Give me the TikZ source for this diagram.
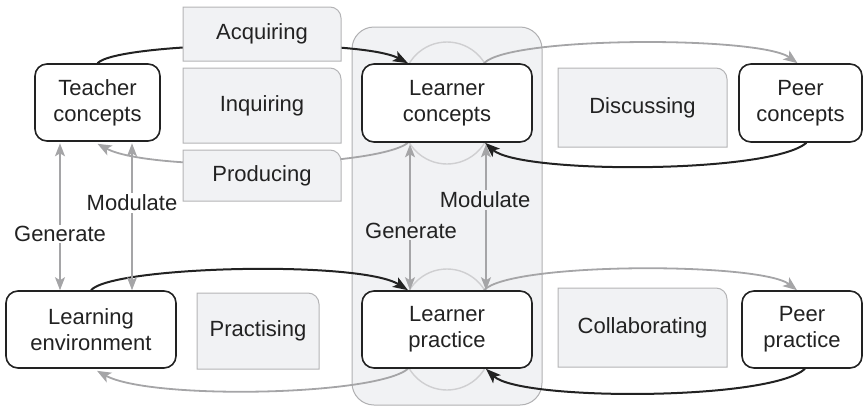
\documentclass[tikz,border=0pt]{standalone}
\usepackage{fontspec}
\setmainfont{Liberation Sans}
\usetikzlibrary{arrows.meta,calc}
\definecolor{ink}{HTML}{222222}
\definecolor{boxfill}{HTML}{F1F2F4}
\definecolor{boxedge}{HTML}{B4B4B6}
\definecolor{panelfill}{HTML}{F1F2F4}
\definecolor{paneledge}{HTML}{B0B0B2}
\definecolor{flow}{HTML}{A5A5A7}
\definecolor{ring}{HTML}{CFCFD1}
\pgfdeclarelayer{back}
\pgfdeclarelayer{links}
\pgfsetlayers{back,links,main}
\tikzset{
  txt/.style={font=\fontsize{22}{26}\selectfont, text=ink, align=center},
  agent/.style={txt, draw=ink, line width=1.6pt, fill=white, rounded corners=12pt, inner sep=0pt},
  activity/.style={txt, inner sep=0pt},
  foldedge/.style={draw=boxedge, fill=boxfill, line width=1pt},
  blackflow/.style={draw=ink, line width=2pt, -{Stealth[length=15pt,width=11pt,inset=3.5pt]}},
  grayflow/.style={draw=flow, line width=1.8pt, -{Stealth[length=14pt,width=11pt,inset=3.5pt]}},
  twoway/.style={draw=flow, line width=1.5pt, {Stealth[length=13pt,width=10pt,inset=3pt]}-{Stealth[length=13pt,width=10pt,inset=3pt]}},
  tag/.style={txt, inner sep=1.5pt},
  ringline/.style={draw=ring, line width=1.4pt},
}
% activity box: name, x1, y1, x2, y2 (top-left and bottom-right), text
\newcommand\activitybox[6]{%
  \draw[foldedge] (#2,#5) -- (#2,#3) -- ([xshift=-11pt]#4,#3)
    arc[start angle=90,end angle=0,radius=11pt] -- (#4,#5) -- cycle;
  \node[activity] (#1) at ($(#2,#3)!0.5!(#4,#5)$) {#6};
}
\begin{document}
\begin{tikzpicture}[x=1pt,y=-1pt]
\useasboundingbox (0,0) rectangle (865,410);

% central learner column
\begin{pgfonlayer}{back}
  \node[draw=paneledge, fill=panelfill, line width=1pt, rounded corners=22pt,
        minimum width=190pt, minimum height=378pt, inner sep=0pt] (panel) at (447,216) {};
  \draw[ringline] (447,86) circle[radius=44pt];
  \draw[ringline] (447,120) circle[radius=44pt];
  \draw[ringline] (447,313) circle[radius=44pt];
  \draw[ringline] (447,346) circle[radius=44pt];
\end{pgfonlayer}

% activities
\activitybox{acq}{183}{7}{341}{61}{Acquiring}
\activitybox{inq}{183}{68}{341}{143}{Inquiring}
\activitybox{prod}{183}{150}{341}{201}{Producing}
\activitybox{disc}{558}{68}{727}{147}{Discussing}
\activitybox{prac}{197}{293}{319}{369}{Practising}
\activitybox{coll}{558}{288}{727}{367}{Collaborating}

% agents
\node[agent, minimum width=125pt, minimum height=77pt] (tc) at (97.5,102.5) {Teacher\\concepts};
\node[agent, minimum width=170pt, minimum height=78pt] (lc) at (447,103) {Learner\\concepts};
\node[agent, minimum width=123pt, minimum height=78pt] (pc) at (800.5,103) {Peer\\concepts};
\node[agent, minimum width=170pt, minimum height=77pt] (le) at (91,329.5) {Learning\\environment};
\node[agent, minimum width=170pt, minimum height=77pt] (lp) at (447,329.5) {Learner\\practice};
\node[agent, minimum width=120pt, minimum height=77pt] (pp) at (802,329.5) {Peer\\practice};

% labels on the vertical links
\node[tag, fill=white] (tgen) at (60,234) {Generate};
\node[tag, fill=white] (tmod) at (132,203) {Modulate};
\node[tag, fill=panelfill] (lgen) at (411,231) {Generate};
\node[tag, fill=panelfill] (lmod) at (485,200) {Modulate};

% feet of the vertical links
\coordinate (tg) at ($(tc.south)+(-37.5,1.5)$);
\coordinate (tm) at ($(tc.south)+(34.5,1.5)$);
\coordinate (lg) at ($(lc.south)+(-37,1.5)$);
\coordinate (lm) at ($(lc.south)+(39,1.5)$);

\begin{pgfonlayer}{links}
  % teacher side
  \draw[blackflow] (tc.north) .. controls (118,42) and (360,38) .. ($(lc.north)+(-39,0)$);
  \draw[grayflow] ($(lc.south)+(-39,0)$) .. controls (375,168) and (150,172) .. ($(tc.south)+(0,2)$);
  \draw[blackflow] (le.north) .. controls (112,266) and (360,260) .. ($(lp.north)+(-39,0)$);
  \draw[grayflow] ($(lp.south)+(-39,0)$) .. controls (375,396) and (150,400) .. ($(le.south)+(6,2)$);
  % peer side
  \draw[grayflow] ($(lc.north)+(37,0)$) .. controls (510,36) and (760,36) .. ($(pc.north)+(-3,0)$);
  \draw[blackflow] ($(pc.south)+(6,0)$) .. controls (770,174) and (520,174) .. ($(lc.south)+(38,0)$);
  \draw[grayflow] ($(lp.north)+(37,0)$) .. controls (510,262) and (760,262) .. ($(pp.north)+(-5,0)$);
  \draw[blackflow] ($(pp.south)+(3,0)$) .. controls (770,401) and (520,401) .. ($(lp.south)+(39,0)$);
  % generate / modulate
  \draw[twoway] (tg) -- (tg |- le.north);
  \draw[twoway] (tm) -- (tm |- le.north);
  \draw[twoway] (lg) -- (lg |- lp.north);
  \draw[twoway] (lm) -- (lm |- lp.north);
\end{pgfonlayer}
\end{tikzpicture}
\end{document}
